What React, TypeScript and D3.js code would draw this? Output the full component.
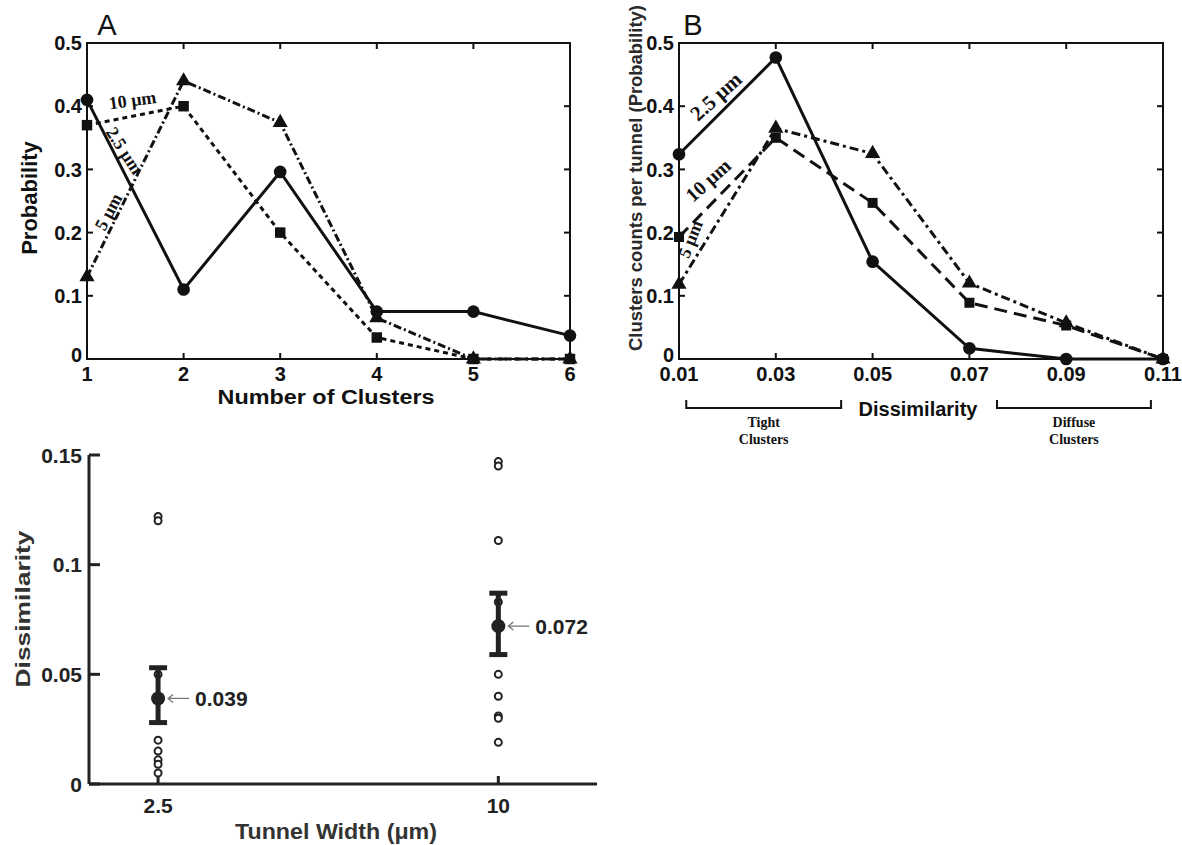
import { useEffect, useRef } from 'react';
import * as d3 from 'd3';

// Panel A: probability of number of clusters per tunnel width
const clusterCounts = [1, 2, 3, 4, 5, 6];
const probA25 = [0.41, 0.11, 0.296, 0.075, 0.075, 0.037];
const probA10 = [0.37, 0.4, 0.2, 0.034, 0, 0];
const probA5 = [0.13, 0.44, 0.374, 0.065, 0, 0];

// Panel B: cluster counts per tunnel vs dissimilarity
const dissimBins = [0.01, 0.03, 0.05, 0.07, 0.09, 0.11];
const binLabels = ['0.01', '0.03', '0.05', '0.07', '0.09', '0.11'];
const probB25 = [0.324, 0.477, 0.154, 0.017, 0, 0];
const probB10 = [0.193, 0.35, 0.247, 0.089, 0.053, 0];
const probB5 = [0.118, 0.365, 0.325, 0.12, 0.057, 0];

const probTicks = [0, 0.1, 0.2, 0.3, 0.4, 0.5];
const probLabels = ['0', '0.1', '0.2', '0.3', '0.4', '0.5'];

const tightRange = [0.0115, 0.0435];
const diffuseRange = [0.0757, 0.1075];

// Panel C: dissimilarity by tunnel width
const tunnelWidths = ['2.5', '10'];
const meanDissim = [0.039, 0.072];
const errLow = [0.028, 0.059];
const errHigh = [0.053, 0.087];
const meanLabels = ['0.039', '0.072'];
const points25 = [0.122, 0.12, 0.05, 0.02, 0.015, 0.011, 0.009, 0.005];
const points10 = [0.147, 0.145, 0.111, 0.083, 0.05, 0.04, 0.031, 0.03, 0.019];
const dissimTicks = [0, 0.05, 0.1, 0.15];
const dissimLabels = ['0', '0.05', '0.1', '0.15'];

const SANS = '"Liberation Sans", Arial, sans-serif';
const SERIF = '"Liberation Serif", "Times New Roman", serif';
const INK = '#111';

export default function App() {
  const svgRef = useRef(null);

  useEffect(() => {
    const svg = d3.select(svgRef.current);
    svg.selectAll('*').remove();

    const boxPanel = (x, y, xTicks, xLabels, yTicks, yLabels, fs) => {
      const [x0, x1] = x.range();
      const [y0, y1] = y.range();
      const g = svg.append('g');
      g.append('rect')
        .attr('x', x0).attr('y', y1)
        .attr('width', x1 - x0).attr('height', y0 - y1)
        .attr('fill', 'none').attr('stroke', INK).attr('stroke-width', 2);
      xTicks.forEach((t, i) => {
        g.append('line').attr('x1', x(t)).attr('x2', x(t)).attr('y1', y0).attr('y2', y0 - 6)
          .attr('stroke', INK).attr('stroke-width', 2);
        g.append('line').attr('x1', x(t)).attr('x2', x(t)).attr('y1', y1).attr('y2', y1 + 6)
          .attr('stroke', INK).attr('stroke-width', 2);
        g.append('text').attr('x', x(t)).attr('y', y0 + fs + 2)
          .attr('text-anchor', 'middle')
          .style('font', `bold ${fs}px ${SANS}`).attr('fill', INK)
          .text(xLabels[i]);
      });
      yTicks.forEach((t, i) => {
        g.append('line').attr('x1', x0).attr('x2', x0 + 6).attr('y1', y(t)).attr('y2', y(t))
          .attr('stroke', INK).attr('stroke-width', 2);
        g.append('line').attr('x1', x1).attr('x2', x1 - 6).attr('y1', y(t)).attr('y2', y(t))
          .attr('stroke', INK).attr('stroke-width', 2);
        g.append('text').attr('x', x0 - 5).attr('y', y(t) - (t === 0 ? 4 : 0)).attr('dy', '0.36em')
          .attr('text-anchor', 'end')
          .style('font', `bold ${fs}px ${SANS}`).attr('fill', INK)
          .text(yLabels[i]);
      });
      return g;
    };

    const drawSeries = (g, x, y, xs, ys, dash, symbol, size) => {
      const line = d3.line().x((d) => x(d[0])).y((d) => y(d[1]));
      const pts = xs.map((v, i) => [v, ys[i]]);
      g.append('path').attr('d', line(pts))
        .attr('fill', 'none').attr('stroke', INK).attr('stroke-width', 3)
        .attr('stroke-dasharray', dash);
      pts.forEach((p) => {
        g.append('path')
          .attr('d', d3.symbol().type(symbol).size(size)())
          .attr('transform', `translate(${x(p[0])},${y(p[1])})`)
          .attr('fill', INK);
      });
    };

    const note = (g, px, py, angle, txt, size) => {
      g.append('text')
        .attr('transform', `translate(${px},${py}) rotate(${angle})`)
        .attr('text-anchor', 'middle').attr('dy', '0.35em')
        .style('font', `bold ${size}px ${SERIF}`).attr('fill', INK)
        .text(txt);
    };

    // ---- Panel A
    const xA = d3.scaleLinear().domain([1, 6]).range([87, 570]);
    const yA = d3.scaleLinear().domain([0, 0.5]).range([359, 43]);
    const gA = boxPanel(xA, yA, clusterCounts, clusterCounts.map(String), probTicks, probLabels, 20);
    drawSeries(gA, xA, yA, clusterCounts, probA5, '8,3,2,3', d3.symbolTriangle, 100);
    drawSeries(gA, xA, yA, clusterCounts, probA10, '5,4', d3.symbolSquare, 110);
    drawSeries(gA, xA, yA, clusterCounts, probA25, null, d3.symbolCircle, 125);
    note(gA, xA(1.47), yA(0.41), -8, '10 μm', 18);
    note(gA, xA(1.39), yA(0.33), 57, '2.5 μm', 18);
    note(gA, xA(1.22), yA(0.233), -62, '5 μm', 18);
    svg.append('text').attr('x', 107).attr('y', 35).attr('text-anchor', 'middle')
      .style('font', `29px ${SANS}`).attr('fill', INK).text('A');
    svg.append('text').attr('transform', 'translate(37,198) rotate(-90)')
      .attr('text-anchor', 'middle')
      .style('font', `bold 22px ${SANS}`).attr('fill', INK).text('Probability');
    svg.append('text').attr('x', 326).attr('y', 404).attr('text-anchor', 'middle')
      .attr('textLength', 217).attr('lengthAdjust', 'spacingAndGlyphs')
      .style('font', `bold 20px ${SANS}`).attr('fill', INK).text('Number of Clusters');

    // ---- Panel B
    const xB = d3.scaleLinear().domain([0.01, 0.11]).range([679, 1163]);
    const yB = d3.scaleLinear().domain([0, 0.5]).range([359, 43]);
    const gB = boxPanel(xB, yB, dissimBins, binLabels, probTicks, probLabels, 20);
    drawSeries(gB, xB, yB, dissimBins, probB5, '9,4,3,4', d3.symbolTriangle, 100);
    drawSeries(gB, xB, yB, dissimBins, probB10, '13,7', d3.symbolSquare, 100);
    drawSeries(gB, xB, yB, dissimBins, probB25, null, d3.symbolCircle, 125);
    note(gB, xB(0.0176), yB(0.416), -42, '2.5 μm', 21);
    note(gB, xB(0.016), yB(0.283), -42, '10 μm', 20);
    note(gB, xB(0.0123), yB(0.19), -68, '5 μm', 18);
    svg.append('text').attr('x', 693).attr('y', 35).attr('text-anchor', 'middle')
      .style('font', `29px ${SANS}`).attr('fill', INK).text('B');
    svg.append('text').attr('transform', 'translate(642,178) rotate(-90)')
      .attr('text-anchor', 'middle')
      .attr('textLength', 346).attr('lengthAdjust', 'spacingAndGlyphs')
      .style('font', `bold 18px ${SANS}`).attr('fill', '#2a2a2a')
      .text('Clusters counts per tunnel (Probability)');
    svg.append('text').attr('x', 918).attr('y', 416).attr('text-anchor', 'middle')
      .style('font', `bold 20px ${SANS}`).attr('fill', INK).text('Dissimilarity');

    const bracket = (range, lines) => {
      const a = xB(range[0]);
      const b = xB(range[1]);
      svg.append('path')
        .attr('d', `M${a},400 V408 H${b} V400`)
        .attr('fill', 'none').attr('stroke', INK).attr('stroke-width', 2);
      lines.forEach((t, i) => {
        svg.append('text').attr('x', (a + b) / 2).attr('y', 427 + i * 17)
          .attr('text-anchor', 'middle')
          .style('font', `bold 14px ${SERIF}`).attr('fill', INK).text(t);
      });
    };
    bracket(tightRange, ['Tight', 'Clusters']);
    bracket(diffuseRange, ['Diffuse', 'Clusters']);

    // ---- Panel C
    const CINK = '#222';
    const xC = d3.scaleLinear().domain([-0.203, 1.29]).range([89, 597]);
    const yC = d3.scaleLinear().domain([0, 0.15]).range([784, 455]);
    const gC = svg.append('g');
    gC.append('line').attr('x1', 89).attr('x2', 89).attr('y1', yC(0)).attr('y2', yC(0.15))
      .attr('stroke', CINK).attr('stroke-width', 3);
    gC.append('line').attr('x1', xC.range()[0]).attr('x2', xC.range()[1]).attr('y1', yC(0)).attr('y2', yC(0))
      .attr('stroke', CINK).attr('stroke-width', 3);
    dissimTicks.forEach((t, i) => {
      gC.append('line').attr('x1', 89).attr('x2', 100).attr('y1', yC(t)).attr('y2', yC(t))
        .attr('stroke', CINK).attr('stroke-width', 3);
      gC.append('text').attr('x', 82).attr('y', yC(t)).attr('dy', '0.36em').attr('text-anchor', 'end')
        .style('font', `bold 21px ${SANS}`).attr('fill', CINK).text(dissimLabels[i]);
    });
    tunnelWidths.forEach((w, i) => {
      gC.append('line').attr('x1', xC(i)).attr('x2', xC(i)).attr('y1', yC(0)).attr('y2', yC(0) - 8)
        .attr('stroke', CINK).attr('stroke-width', 3);
      gC.append('text').attr('x', xC(i)).attr('y', 813).attr('text-anchor', 'middle')
        .style('font', `bold 21px ${SANS}`).attr('fill', CINK).text(w);
    });
    [points25, points10].forEach((pts, i) => {
      pts.forEach((v) => {
        gC.append('circle').attr('cx', xC(i)).attr('cy', yC(v)).attr('r', 3.5)
          .attr('fill', '#fff').attr('stroke', CINK).attr('stroke-width', 2);
      });
      const cx = xC(i);
      const cy = yC(meanDissim[i]);
      gC.append('line').attr('x1', cx).attr('x2', cx).attr('y1', yC(errLow[i])).attr('y2', yC(errHigh[i]))
        .attr('stroke', CINK).attr('stroke-width', 5);
      [errLow[i], errHigh[i]].forEach((e) => {
        gC.append('line').attr('x1', cx - 9).attr('x2', cx + 9).attr('y1', yC(e)).attr('y2', yC(e))
          .attr('stroke', CINK).attr('stroke-width', 5);
      });
      gC.append('circle').attr('cx', cx).attr('cy', cy).attr('r', 7).attr('fill', CINK);
      gC.append('path')
        .attr('d', `M${cx + 31},${cy} H${cx + 10} M${cx + 15},${cy - 4} L${cx + 10},${cy} L${cx + 15},${cy + 4}`)
        .attr('fill', 'none').attr('stroke', '#777').attr('stroke-width', 1.3);
      gC.append('text').attr('x', cx + 37).attr('y', cy).attr('dy', '0.36em')
        .style('font', `bold 21px ${SANS}`).attr('fill', CINK).text(meanLabels[i]);
    });
    svg.append('text').attr('transform', 'translate(30,609) rotate(-90)')
      .attr('text-anchor', 'middle')
      .attr('textLength', 157).attr('lengthAdjust', 'spacingAndGlyphs')
      .style('font', `bold 21px ${SANS}`).attr('fill', '#333').text('Dissimilarity');
    svg.append('text').attr('x', 336).attr('y', 839).attr('text-anchor', 'middle')
      .attr('textLength', 202).attr('lengthAdjust', 'spacingAndGlyphs')
      .style('font', `bold 22px ${SANS}`).attr('fill', '#333').text('Tunnel Width (μm)');
  }, []);

  return (
    <svg
      ref={svgRef}
      width={1182}
      height={845}
      style={{ position: 'absolute', left: 0, top: 0, background: '#fff' }}
    />
  );
}
